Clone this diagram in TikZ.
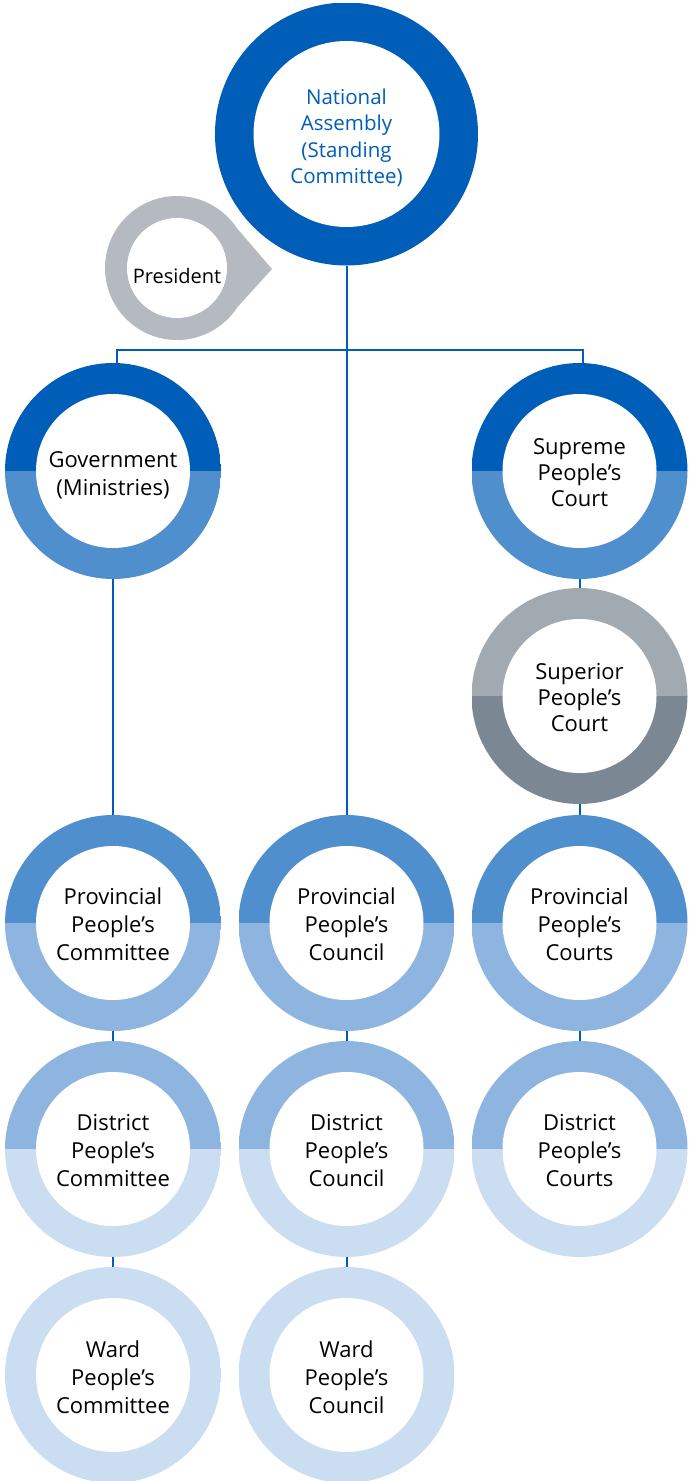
\documentclass[tikz,border=0pt]{standalone}
\usepackage{fontspec}
\setmainfont{Open Sans}
\definecolor{nablue}{HTML}{005EB8}
\definecolor{mblue}{HTML}{4F8FCE}
\definecolor{lblue}{HTML}{8DB5E0}
\definecolor{xblue}{HTML}{CADDF1}
\definecolor{pgray}{HTML}{B5BAC1}
\definecolor{sgray}{HTML}{A2AAB1}
\definecolor{dgray}{HTML}{7B8792}
\newcommand\ringtext[4]{\raisebox{#1}[\height][\depth]{\fontsize{#2}{#3}\selectfont\begin{tabular}{@{}c@{}}#4\end{tabular}}}
\tikzset{
  ring/.style n args={2}{circle, minimum size=216pt, inner sep=0pt,
    path picture={
      \fill[#1] (path picture bounding box.north west) rectangle (path picture bounding box.east);
      \fill[#2] (path picture bounding box.west) rectangle (path picture bounding box.south east);
      \fill[white] (path picture bounding box.center) circle (77pt);
    }},
  conn/.style={draw=nablue, line width=2pt},
}
\begin{document}
\begin{tikzpicture}[x=1pt, y=-1pt]
\useasboundingbox (0,0) rectangle (689,1481);
% national assembly
\node[circle, minimum size=263pt, inner sep=0pt, text=nablue,
  path picture={\fill[nablue] (path picture bounding box.north west) rectangle (path picture bounding box.south east);
    \fill[white] (path picture bounding box.center) circle (93pt);}]
  (na) at (346.5,134) {\ringtext{-4.5pt}{20.5}{26.5}{National\\Assembly\\(Standing\\Committee)}};
% president
\node[circle, minimum size=144pt, inner sep=0pt, fill=pgray,
  path picture={\fill[white] (path picture bounding box.center) circle (50pt);}]
  (pres) at (177,268) {};
\fill[pgray] (pres.32) -- (272,269) -- (pres.-32) -- cycle;
\node[font=\fontsize{20}{28}\selectfont] (prestext) at ([yshift=-8pt]pres.center) {President};
% rings
\node[ring={nablue}{mblue}] (gov) at (113,471) {\ringtext{-5pt}{22}{28}{Government\\(Ministries)}};
\node[ring={nablue}{mblue}] (spc) at (579.5,471) {\ringtext{-4pt}{22}{26}{Supreme\\People’s\\Court}};
\node[ring={sgray}{dgray}] (sup) at (579.5,696) {\ringtext{-4pt}{22}{26}{Superior\\People’s\\Court}};
\node[ring={mblue}{lblue}] (pcom) at (113,923) {\ringtext{-4pt}{22}{28}{Provincial\\People’s\\Committee}};
\node[ring={mblue}{lblue}] (pcou) at (346.5,923) {\ringtext{-4pt}{22}{28}{Provincial\\People’s\\Council}};
\node[ring={mblue}{lblue}] (pcrt) at (579.5,923) {\ringtext{-4pt}{22}{28}{Provincial\\People’s\\Courts}};
\node[ring={lblue}{xblue}] (dcom) at (113,1149) {\ringtext{-4pt}{22}{28}{District\\People’s\\Committee}};
\node[ring={lblue}{xblue}] (dcou) at (346.5,1149) {\ringtext{-4pt}{22}{28}{District\\People’s\\Council}};
\node[ring={lblue}{xblue}] (dcrt) at (579.5,1149) {\ringtext{-4pt}{22}{28}{District\\People’s\\Courts}};
\node[ring={xblue}{xblue}] (wcom) at (113,1375) {\ringtext{-5pt}{22}{28}{Ward\\People’s\\Committee}};
\node[ring={xblue}{xblue}] (wcou) at (346.5,1375) {\ringtext{-5pt}{22}{28}{Ward\\People’s\\Council}};
% connectors
\coordinate (bar) at (346.5,350);
\draw[conn] (na.south) -- (pcou.north);
\draw[conn] ([xshift=4pt]gov.north) |- (bar) -| ([xshift=3.5pt]spc.north);
\draw[conn] (gov.south) -- (pcom.north);
\draw[conn] (spc.south) -- (sup.north);
\draw[conn] (sup.south) -- (pcrt.north);
\draw[conn] (pcom.south) -- (dcom.north);
\draw[conn] (dcom.south) -- (wcom.north);
\draw[conn] (pcou.south) -- (dcou.north);
\draw[conn] (dcou.south) -- (wcou.north);
\draw[conn] (pcrt.south) -- (dcrt.north);
\end{tikzpicture}
\end{document}
